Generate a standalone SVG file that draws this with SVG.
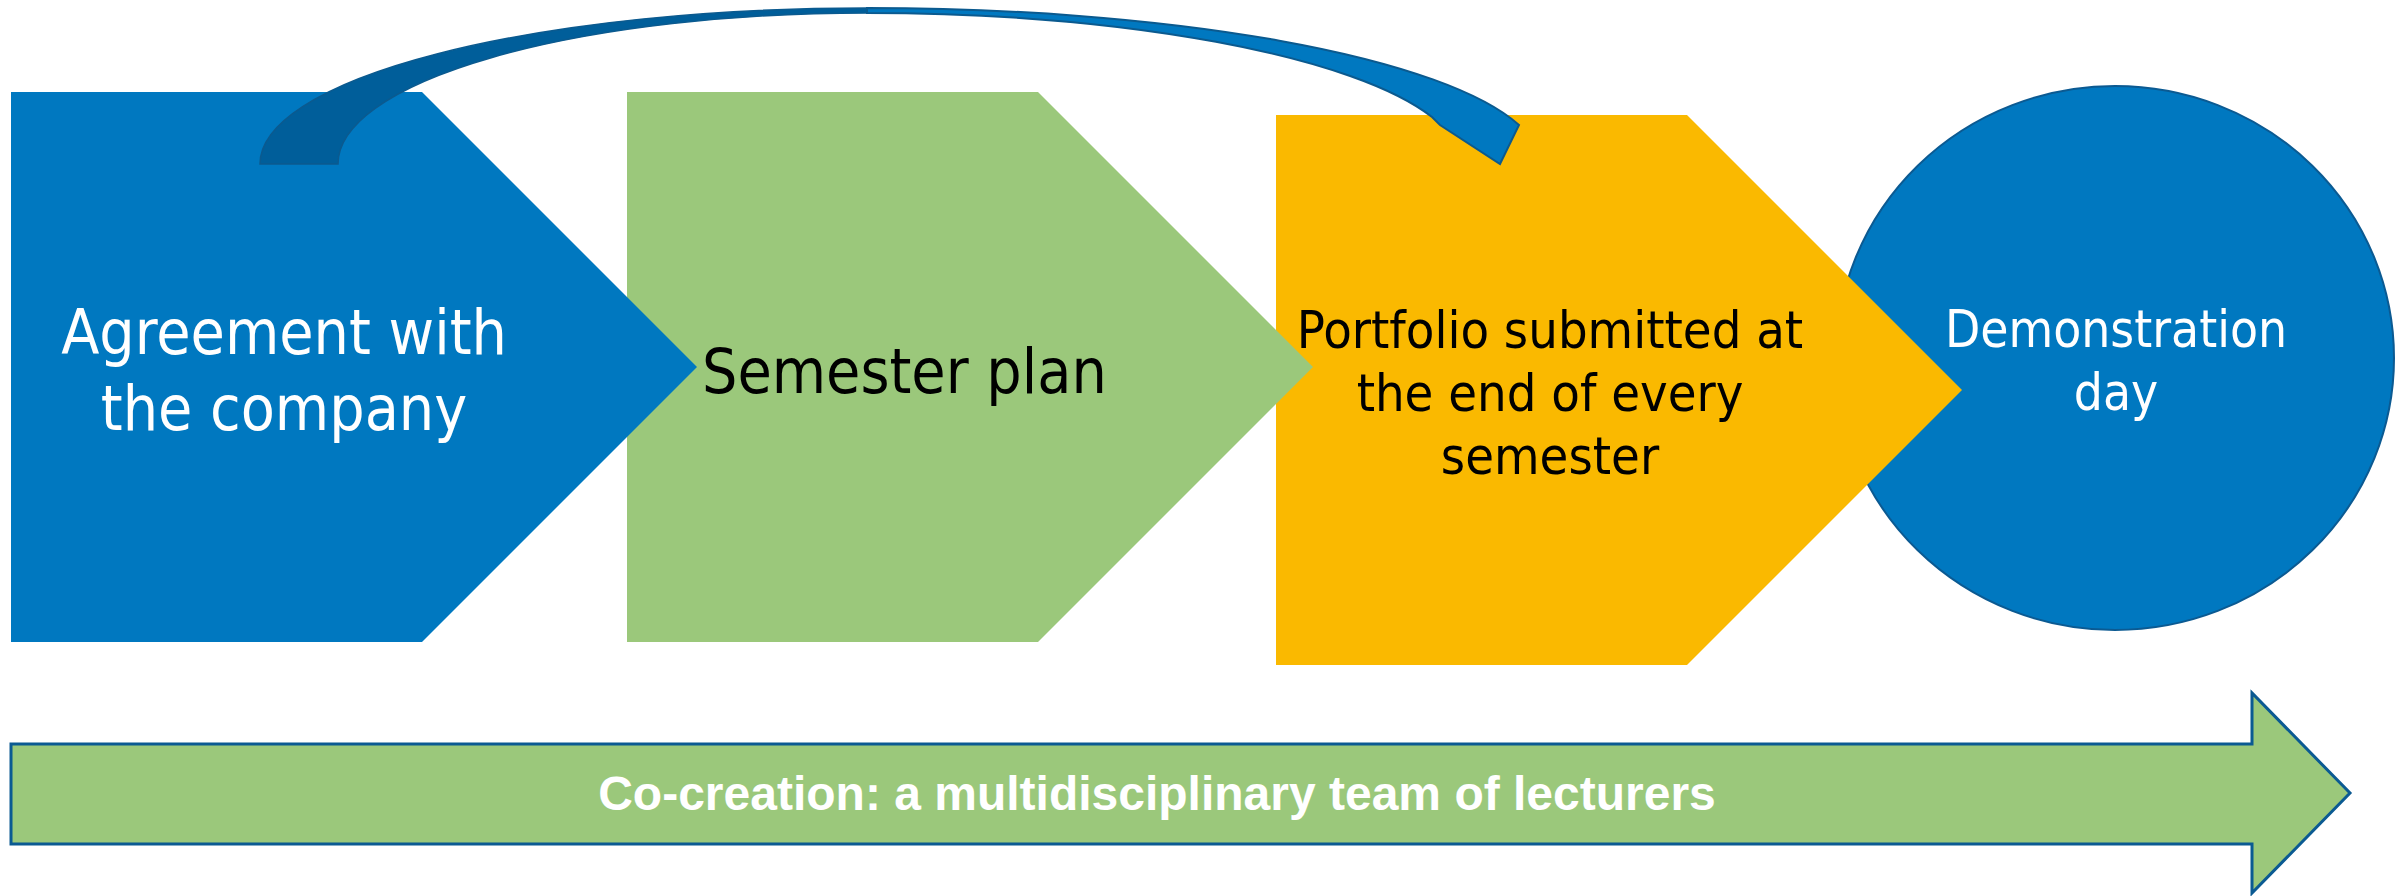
<svg xmlns="http://www.w3.org/2000/svg" width="2397" height="896" viewBox="0 0 2397 896">
<style>
.lbl{font-family:"DejaVu Sans Condensed","DejaVu Sans",sans-serif;font-stretch:condensed;}
.w{fill:#ffffff;}
.k{fill:#000000;}
.blue{fill:#0078C0;}
.edge{stroke:#0B5A92;}
</style>
<rect x="0" y="0" width="2397" height="896" fill="#ffffff"/>
<g id="node-demo">
<ellipse cx="2115" cy="358" rx="279" ry="272" class="blue edge" stroke-width="2"/>
<text class="lbl w" font-size="51" text-anchor="middle"><tspan x="2116" y="347">Demonstration</tspan><tspan x="2116" y="410">day</tspan></text>
</g>
<g id="node-portfolio">
<polygon points="1276,115 1687,115 1962,390 1687,665 1276,665" fill="#FAB900"/>
<text class="lbl k" font-size="52" text-anchor="middle"><tspan x="1550" y="348">Portfolio submitted at</tspan><tspan x="1550" y="411">the end of every</tspan><tspan x="1550" y="474">semester</tspan></text>
</g>
<g id="node-semester">
<polygon points="627,92 1038,92 1313,367 1038,642 627,642" fill="#9BC87B"/>
<text class="lbl k" font-size="62" x="702" y="393">Semester plan</text>
</g>
<g id="node-agreement">
<polygon points="11,92 422,92 697,367 422,642 11,642" class="blue"/>
<text class="lbl w" font-size="62" text-anchor="middle"><tspan x="284" y="354">Agreement with</tspan><tspan x="284" y="430">the company</tspan></text>
</g>
<g id="node-cocreation">
<polygon points="11,744 2252,744 2252,693 2350,793 2252,893 2252,844 11,844" fill="#9BC87B" class="edge" stroke-width="3" stroke-linejoin="miter"/>
<text font-family="'Liberation Sans',Arial,sans-serif" font-weight="bold" font-size="48" fill="#ffffff" text-anchor="middle" x="1157" y="810">Co-creation: a multidisciplinary team of lecturers</text>
</g>
<g id="connectors">
<path d="M260,164 A607,156 0 0 1 867,8 L867,13 A529,151 0 0 0 338,164 Z" fill="#005E9A" stroke="#0B5A8F" stroke-width="1.5"/>
<path d="M867,8 A673,156 0 0 1 1519,125 L1500,164 L1440,125 L1432,117 A595,151 0 0 0 867,13 Z" fill="#0078C0" stroke="#0B5A8F" stroke-width="2"/>
</g>
</svg>
